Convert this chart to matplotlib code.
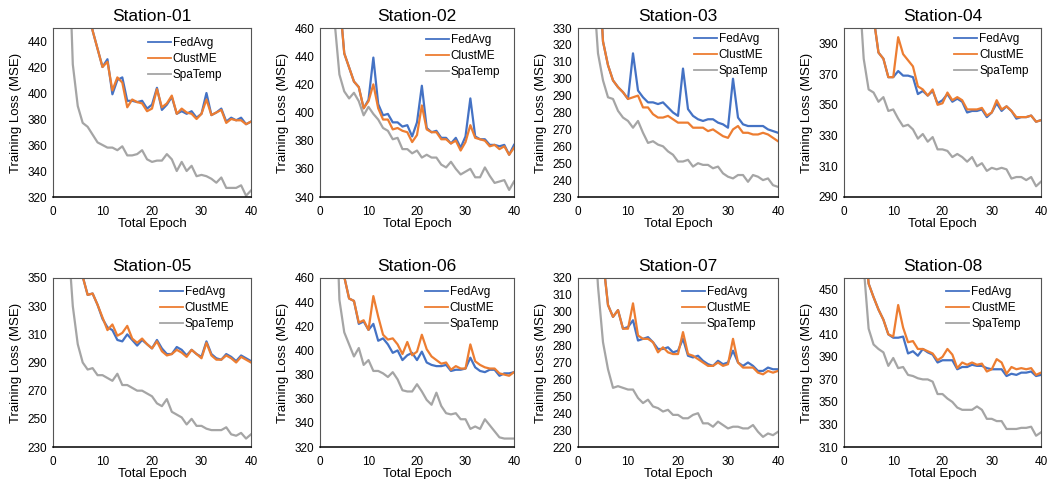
import matplotlib
matplotlib.use("Agg")
import matplotlib.pyplot as plt
import numpy as np

plt.rcParams['font.family'] = ['Liberation Sans', 'DejaVu Sans']

epochs = list(range(1, 41))
series_names = ["FedAvg", "ClustME", "SpaTemp"]
colors = ["#4472C4", "#ED7D31", "#A5A5A5"]

titles = ["Station-01", "Station-02", "Station-03", "Station-04",
          "Station-05", "Station-06", "Station-07", "Station-08"]

# Station-01
fed01 = [900, 720, 620, 560, 520, 495, 470, 448, 434, 420, 426, 399, 410, 412, 394, 394, 393, 394, 388, 391,
         404, 387, 391, 397, 384, 386, 384, 386, 381, 384, 400, 383, 385, 388, 378, 381, 379, 381, 376, 378]
clu01 = [900, 720, 620, 560, 520, 495, 470, 448, 434, 420, 424, 402, 412, 408, 389, 395, 393, 392, 386, 388,
         403, 389, 392, 398, 384, 388, 385, 384, 380, 384, 395, 383, 385, 387, 377, 380, 379, 379, 376, 378]
spa01 = [900, 700, 534, 422, 390, 377, 374, 368, 362, 360, 358, 358, 356, 359, 352, 352, 353, 356, 349, 347,
         348, 348, 353, 349, 340, 347, 340, 344, 336, 337, 336, 334, 331, 335, 327, 327, 327, 329, 321, 325]

# Station-02
fed02 = [900, 700, 560, 482, 442, 432, 422, 418, 403, 409, 439, 406, 398, 399, 393, 393, 390, 391, 383, 393,
         419, 389, 386, 387, 382, 382, 378, 382, 375, 383, 410, 383, 381, 381, 377, 377, 376, 377, 370, 377]
clu02 = [900, 700, 560, 482, 442, 432, 422, 418, 403, 408, 420, 403, 395, 395, 388, 389, 387, 386, 379, 384,
         405, 388, 386, 386, 381, 381, 378, 380, 373, 379, 391, 382, 381, 380, 376, 377, 374, 376, 370, 375]
spa02 = [900, 700, 465, 427, 415, 410, 414, 408, 398, 404, 399, 395, 389, 387, 381, 382, 374, 374, 371, 373,
         368, 370, 368, 368, 363, 361, 365, 360, 356, 358, 360, 354, 354, 361, 355, 350, 351, 352, 345, 351]

# Station-03
fed03 = [700, 500, 420, 375, 322, 308, 299, 295, 292, 288, 315, 293, 289, 286, 286, 285, 286, 283, 280, 278,
         306, 282, 278, 276, 275, 276, 276, 274, 273, 271, 300, 277, 273, 272, 272, 272, 272, 270, 269, 268]
clu03 = [700, 500, 420, 375, 322, 308, 299, 295, 292, 288, 289, 290, 283, 283, 279, 277, 277, 278, 276, 274,
         274, 274, 271, 271, 271, 269, 270, 268, 266, 265, 270, 272, 268, 268, 267, 267, 268, 267, 265, 263]
spa03 = [600, 450, 358, 315, 299, 289, 288, 281, 277, 275, 271, 275, 268, 262, 263, 261, 260, 257, 255, 251,
         251, 252, 248, 250, 249, 249, 247, 248, 244, 242, 241, 243, 243, 239, 243, 242, 240, 241, 237, 236]

# Station-04
fed04 = [700, 550, 470, 435, 418, 407, 384, 380, 368, 368, 372, 369, 369, 368, 357, 359, 356, 359, 351, 353,
         357, 352, 354, 352, 345, 346, 346, 347, 342, 345, 351, 346, 349, 346, 341, 342, 342, 343, 339, 340]
clu04 = [700, 550, 470, 435, 418, 407, 384, 380, 368, 368, 394, 383, 379, 375, 362, 360, 356, 360, 350, 351,
         358, 353, 355, 353, 347, 347, 347, 348, 343, 345, 353, 347, 349, 346, 342, 342, 342, 343, 339, 340]
spa04 = [650, 520, 430, 380, 360, 358, 352, 355, 346, 347, 341, 336, 337, 334, 328, 331, 326, 329, 321, 321,
         320, 316, 318, 316, 313, 316, 310, 312, 307, 309, 308, 309, 308, 302, 303, 303, 301, 303, 297, 300]

# Station-05
fed05 = [600, 480, 420, 395, 380, 351, 338, 339, 331, 321, 315, 313, 306, 305, 310, 306, 302, 306, 303, 300,
         306, 300, 296, 296, 301, 299, 295, 299, 296, 294, 305, 296, 293, 292, 296, 294, 291, 295, 293, 291]
clu05 = [600, 480, 420, 395, 380, 351, 338, 339, 331, 322, 313, 317, 309, 311, 316, 307, 304, 307, 303, 300,
         305, 298, 295, 296, 299, 297, 294, 299, 296, 293, 304, 295, 292, 292, 295, 293, 290, 294, 292, 290]
spa05 = [600, 470, 380, 330, 303, 290, 285, 286, 281, 281, 279, 277, 282, 274, 274, 272, 270, 270, 268, 266,
         261, 259, 264, 255, 253, 251, 246, 250, 245, 245, 243, 242, 242, 242, 244, 239, 238, 240, 236, 239]

# Station-06
fed06 = [800, 640, 560, 520, 461, 443, 441, 422, 424, 417, 422, 408, 410, 405, 398, 400, 392, 396, 398, 392,
         399, 390, 388, 387, 387, 388, 383, 384, 384, 385, 394, 386, 383, 382, 384, 384, 379, 381, 381, 382]
clu06 = [800, 640, 560, 520, 461, 443, 441, 423, 425, 417, 445, 428, 413, 409, 410, 405, 397, 407, 396, 399,
         413, 401, 395, 392, 389, 390, 384, 387, 385, 385, 405, 391, 388, 386, 385, 385, 381, 380, 379, 382]
spa06 = [900, 700, 562, 442, 415, 405, 395, 402, 388, 392, 383, 383, 381, 378, 382, 376, 367, 366, 366, 372,
         366, 359, 355, 365, 354, 348, 347, 348, 343, 343, 335, 337, 335, 343, 338, 333, 328, 327, 327, 327]

# Station-07
fed07 = [500, 420, 380, 350, 331, 304, 297, 301, 290, 291, 295, 283, 284, 285, 282, 278, 278, 279, 276, 277,
         284, 274, 273, 274, 271, 269, 268, 271, 269, 270, 277, 270, 268, 270, 268, 265, 265, 267, 266, 266]
clu07 = [500, 420, 380, 350, 331, 304, 297, 301, 290, 290, 305, 286, 284, 284, 282, 276, 279, 276, 275, 275,
         288, 275, 274, 272, 270, 268, 268, 270, 268, 269, 284, 270, 267, 267, 267, 264, 263, 265, 264, 265]
spa07 = [600, 450, 365, 315, 282, 266, 255, 256, 255, 254, 254, 249, 246, 248, 244, 243, 241, 242, 239, 239,
         237, 237, 239, 240, 234, 234, 232, 235, 233, 231, 232, 232, 231, 231, 233, 229, 226, 228, 227, 229]

# Station-08
fed08 = [800, 640, 560, 505, 455, 443, 432, 423, 410, 407, 407, 408, 393, 395, 391, 397, 394, 392, 385, 387,
         387, 387, 379, 381, 381, 383, 382, 382, 380, 379, 379, 379, 373, 375, 374, 376, 376, 377, 373, 374]
clu08 = [800, 640, 560, 505, 455, 443, 432, 423, 410, 408, 436, 416, 403, 404, 397, 397, 395, 393, 387, 390,
         397, 392, 380, 385, 383, 385, 383, 384, 377, 379, 388, 385, 375, 381, 379, 380, 379, 380, 374, 376]
spa08 = [900, 700, 560, 470, 415, 401, 397, 394, 382, 389, 380, 381, 374, 373, 371, 370, 370, 368, 357, 357,
         353, 350, 345, 343, 343, 343, 346, 343, 335, 335, 333, 333, 326, 326, 326, 327, 327, 328, 320, 323]

station_data = [
    (fed01, clu01, spa01), (fed02, clu02, spa02), (fed03, clu03, spa03), (fed04, clu04, spa04),
    (fed05, clu05, spa05), (fed06, clu06, spa06), (fed07, clu07, spa07), (fed08, clu08, spa08),
]

# y-range and tick positions per station: (ymin, ymax, first tick, step)
y_ranges = [(320, 450, 320, 20), (340, 460, 340, 20), (230, 330, 230, 10), (290, 400, 290, 20),
            (230, 350, 230, 20), (320, 460, 320, 20), (220, 320, 220, 10), (310, 460, 310, 20)]

# legend anchor (axes fraction) per panel
legend_x = [0.48, 0.545, 0.58, 0.56, 0.54, 0.54, 0.52, 0.52]
legend_top_px = [16, 13, 12, 12, 15, 15, 15, 15]

W, H = 1052, 479
fig = plt.figure(figsize=(W / 100, H / 100), dpi=100)

col_px = [(53, 251), (320, 514), (578, 778), (844, 1041)]
row_px = [(28, 197), (278, 447)]

for i, (title, data) in enumerate(zip(titles, station_data)):
    r, c = divmod(i, 4)
    x0, x1 = col_px[c]
    y0, y1 = row_px[r]
    ax = fig.add_axes([x0 / W, 1 - y1 / H, (x1 - x0) / W, (y1 - y0) / H])
    for vals, name, col in zip(data, series_names, colors):
        ax.plot(epochs, vals, color=col, lw=1.6, label=name, solid_joinstyle='round')
    ymin, ymax, t0, step = y_ranges[i]
    ax.set_ylim(ymin, ymax)
    ax.set_xlim(0, 40)
    ax.set_yticks(np.arange(t0, ymax + 0.1, step))
    ax.set_xticks([0, 10, 20, 30, 40])
    ax.tick_params(length=0, labelsize=8.5)
    ax.tick_params(axis='x', pad=6.5)
    ax.tick_params(axis='y', pad=4)
    for side in ['top', 'right', 'left']:
        ax.spines[side].set_color('#555555')
        ax.spines[side].set_linewidth(0.8)
    ax.spines['bottom'].set_color('#000000')
    ax.spines['bottom'].set_linewidth(1.1)
    ax.set_title(title, fontsize=12.5, pad=5)
    ax.set_xlabel("Total Epoch", fontsize=9.5)
    ax.set_ylabel("Training Loss (MSE)", fontsize=9.5)
    axw = x1 - x0
    axh = y1 - y0
    ax.yaxis.set_label_coords(-31 / axw, 0.5)
    ax.xaxis.set_label_coords(0.5, -21 / axh)
    leg = ax.legend(loc='upper left', bbox_to_anchor=(legend_x[i], 1 - (legend_top_px[i] - 7) / axh),
                    frameon=False, fontsize=8.5, handlelength=1.95, handletextpad=0.15,
                    labelspacing=0.35, borderpad=0, borderaxespad=0)
    for h in leg.get_lines():
        h.set_linewidth(1.3)

fig.savefig("out.png", dpi=100)
